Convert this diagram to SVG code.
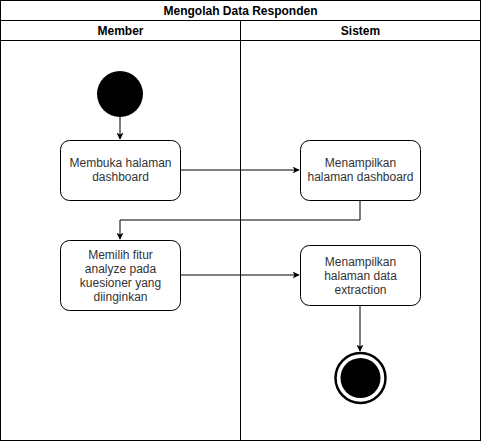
<svg xmlns="http://www.w3.org/2000/svg" width="481" height="441" viewBox="0 0 481 441">
<defs>
<style>
.frame{fill:#fff;stroke:#000;stroke-width:1}
.ln{stroke:#000;stroke-width:1;fill:none}
.node{fill:#fff;stroke:#000;stroke-width:1}
.hd{font-family:"Liberation Sans",Arial,sans-serif;font-size:12px;font-weight:bold;fill:#000;text-anchor:middle}
.lbl{font-family:"Liberation Sans",Arial,sans-serif;font-size:12px;fill:#333;text-anchor:middle}
.edge{stroke:#000;stroke-width:1;fill:none;marker-end:url(#arr)}
</style>
<marker id="arr" viewBox="0 0 10 10" refX="9" refY="5" markerWidth="7" markerHeight="7" markerUnits="userSpaceOnUse" orient="auto">
<path d="M0,0 L10,5 L0,10 L2.5,5 Z" fill="#000"/>
</marker>
</defs>
<rect width="481" height="441" fill="#fff"/>
<g id="pool">
<rect class="frame" x="0.5" y="0.5" width="480" height="440"/>
<line class="ln" x1="0.5" y1="20.5" x2="480.5" y2="20.5"/>
<line class="ln" x1="0.5" y1="40.5" x2="480.5" y2="40.5"/>
<line class="ln" x1="240.5" y1="20.5" x2="240.5" y2="440.5"/>
<text class="hd" x="240.5" y="15">Mengolah Data Responden</text>
<text class="hd" x="120.5" y="35">Member</text>
<text class="hd" x="360.5" y="35">Sistem</text>
</g>
<g id="connectors">
<path class="edge" d="M120,117 L120,139"/>
<path class="edge" d="M180,170 L299,170"/>
<path class="edge" d="M360,200 L360,220 L120,220 L120,239"/>
<path class="edge" d="M180,275 L299,275"/>
<path class="edge" d="M360,305 L360,351"/>
</g>
<g id="start">
<circle cx="120" cy="94" r="23" fill="#000"/>
</g>
<g id="n1">
<rect class="node" x="60.5" y="140.5" width="120" height="60" rx="9"/>
<text class="lbl" x="120.5" y="167">Membuka halaman</text>
<text class="lbl" x="120.5" y="181">dashboard</text>
</g>
<g id="n2">
<rect class="node" x="300.5" y="140.5" width="120" height="60" rx="9"/>
<text class="lbl" x="360.5" y="167">Menampilkan</text>
<text class="lbl" x="360.5" y="181">halaman dashboard</text>
</g>
<g id="n3">
<rect class="node" x="60.5" y="240.5" width="120" height="70" rx="9"/>
<text class="lbl" x="120.5" y="259">Memilih fitur</text>
<text class="lbl" x="120.5" y="273">analyze pada</text>
<text class="lbl" x="120.5" y="287">kuesioner yang</text>
<text class="lbl" x="120.5" y="301">diinginkan</text>
</g>
<g id="n4">
<rect class="node" x="300.5" y="245.5" width="120" height="60" rx="9"/>
<text class="lbl" x="360.5" y="266">Menampilkan</text>
<text class="lbl" x="360.5" y="280">halaman data</text>
<text class="lbl" x="360.5" y="294">extraction</text>
</g>
<g id="end">
<circle cx="360.5" cy="378" r="25" fill="#fff" stroke="#000" stroke-width="2.5"/>
<circle cx="360.5" cy="378" r="20" fill="#000"/>
</g>
</svg>
